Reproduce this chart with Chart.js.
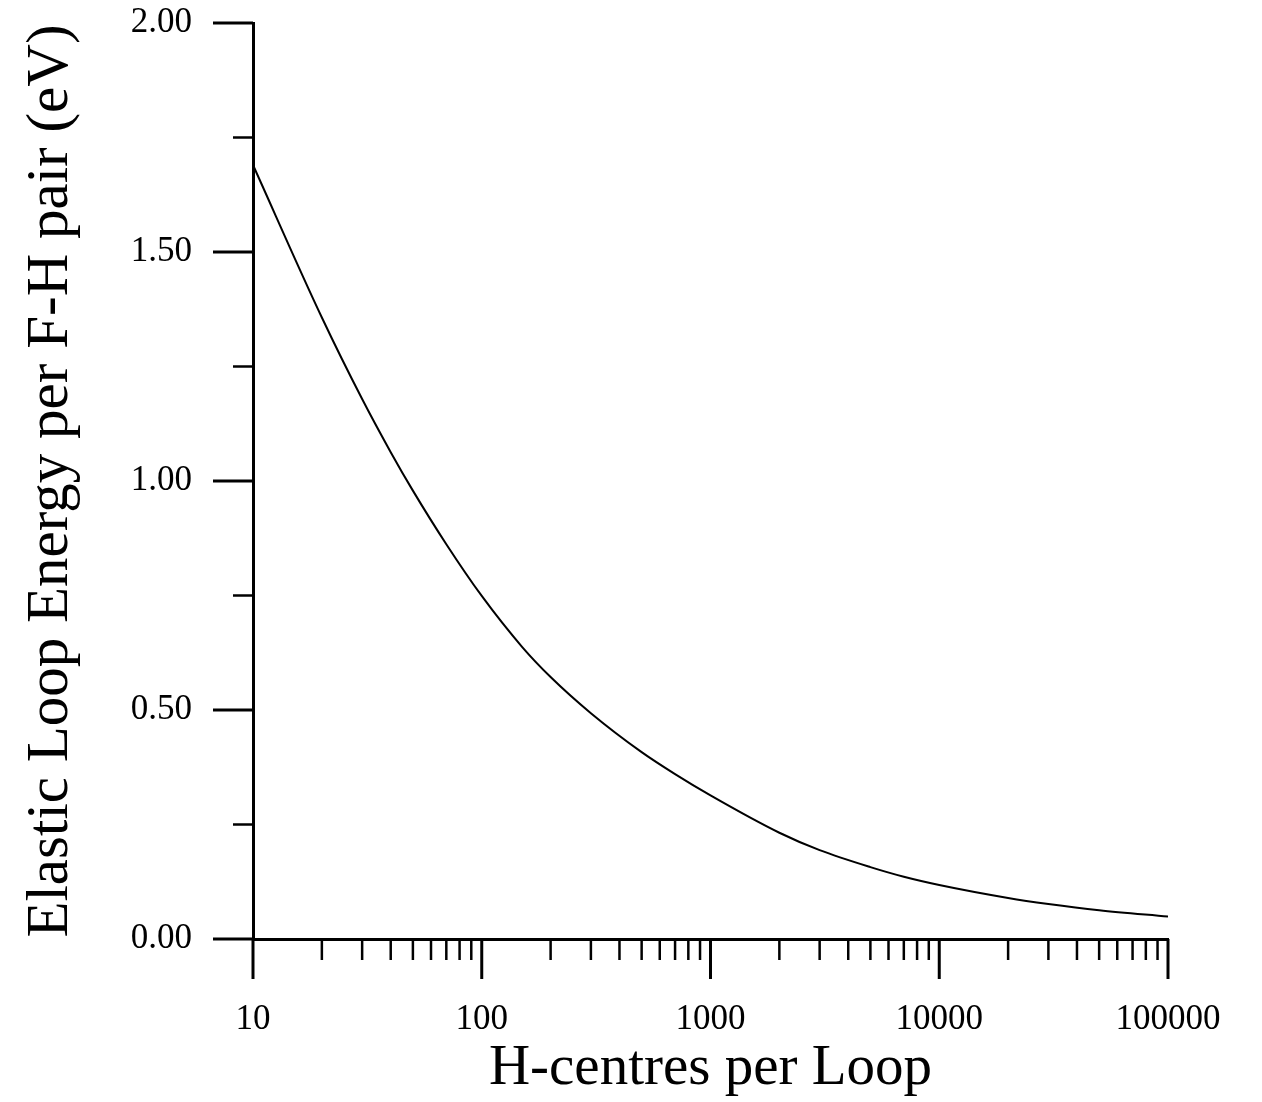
<!DOCTYPE html>
<html>
<head>
<meta charset="utf-8">
<script src="https://cdn.jsdelivr.net/npm/chart.js@4.4.1/dist/chart.umd.min.js"></script>
<style>
  html, body { margin: 0; padding: 0; background: #fff; }
  #wrap { width: 1262px; height: 1102px; position: relative; }
</style>
</head>
<body>
<div id="wrap"><canvas id="c" width="1262" height="1102"></canvas></div>
<script>
// ---- data ----
const hCentres = [10, 20, 30, 40, 50, 70, 100, 150, 200, 300, 500, 700, 1000, 2000, 3000, 5000, 7000, 10000, 20000, 30000, 50000, 100000];
const loopEnergy = [1.69, 1.357, 1.179, 1.063, 0.979, 0.862, 0.749, 0.638, 0.572, 0.493, 0.408, 0.360, 0.3135, 0.232, 0.194, 0.157, 0.136, 0.118, 0.0897, 0.0765, 0.0627, 0.0489];

const xMajorTicks = [10, 100, 1000, 10000, 100000];
const xTickLabels = ['10', '100', '1000', '10000', '100000'];
const xMinorTicks = [20, 30, 40, 50, 60, 70, 80, 90, 200, 300, 400, 500, 600, 700, 800, 900,
  2000, 3000, 4000, 5000, 6000, 7000, 8000, 9000, 20000, 30000, 40000, 50000, 60000, 70000, 80000, 90000];
const yMajorTicks = [0, 0.5, 1.0, 1.5, 2.0];
const yTickLabels = ['0.00', '0.50', '1.00', '1.50', '2.00'];
const yMinorTicks = [0.25, 0.75, 1.25, 1.75];

const xTitle = 'H-centres per Loop';
const yTitle = 'Elastic Loop Energy per F-H pair (eV)';

// ---- chart ----
const INK = '#000';
const SERIF = '"Liberation Serif", "Times New Roman", serif';

const tickMarks = {
  id: 'tickMarks',
  afterDraw(chart) {
    const {ctx, chartArea} = chart;
    const xs = chart.scales.x, ys = chart.scales.y;
    ctx.save();
    ctx.strokeStyle = INK;
    ctx.lineCap = 'butt';
    const hTick = (v, len) => {
      const px = xs.getPixelForValue(v);
      ctx.beginPath();
      ctx.moveTo(px, chartArea.bottom);
      ctx.lineTo(px, chartArea.bottom + len);
      ctx.stroke();
    };
    const vTick = (v, len) => {
      const py = ys.getPixelForValue(v);
      ctx.beginPath();
      ctx.moveTo(chartArea.left, py);
      ctx.lineTo(chartArea.left - len, py);
      ctx.stroke();
    };
    ctx.lineWidth = 2.5;
    xMinorTicks.forEach(v => hTick(v, 21));
    yMinorTicks.forEach(v => vTick(v, 20));
    ctx.lineWidth = 3;
    xMajorTicks.forEach(v => hTick(v, 40));
    yMajorTicks.forEach(v => vTick(v, 40));
    ctx.restore();
  }
};

new Chart(document.getElementById('c'), {
  type: 'line',
  data: {
    datasets: [{
      data: hCentres.map((x, i) => ({x: x, y: loopEnergy[i]})),
      borderColor: INK,
      borderWidth: 2,
      pointRadius: 0,
      cubicInterpolationMode: 'monotone',
      fill: false
    }]
  },
  options: {
    responsive: false,
    animation: false,
    devicePixelRatio: 1,
    layout: { padding: { top: 23, right: 94, left: 0, bottom: 0 } },
    plugins: { legend: { display: false }, tooltip: { enabled: false } },
    scales: {
      x: {
        type: 'logarithmic',
        min: 10,
        max: 100000,
        afterBuildTicks: s => { s.ticks = xMajorTicks.map(v => ({value: v})); },
        afterFit: s => { s.height = 163; },
        grid: { display: true, drawOnChartArea: false, drawTicks: true, tickLength: 60, tickColor: 'rgba(0,0,0,0)' },
        border: { display: true, color: INK, width: 3 },
        ticks: {
          autoSkip: false, maxRotation: 0, minRotation: 0,
          padding: 0,
          color: INK,
          font: { family: SERIF, size: 35 },
          callback: (v, i) => xTickLabels[i]
        },
        title: {
          display: true, text: xTitle, color: INK,
          font: { family: SERIF, size: 57, lineHeight: 1 },
          padding: { top: 0, bottom: 4 }
        }
      },
      y: {
        type: 'linear',
        min: 0,
        max: 2,
        afterBuildTicks: s => { s.ticks = yMajorTicks.map(v => ({value: v})); },
        afterFit: s => { s.width = 253; },
        grid: { display: true, drawOnChartArea: false, drawTicks: true, tickLength: 61, tickColor: 'rgba(0,0,0,0)' },
        border: { display: true, color: INK, width: 3 },
        ticks: {
          autoSkip: false,
          padding: 0,
          color: INK,
          font: { family: SERIF, size: 35 },
          callback: (v, i) => yTickLabels[i]
        },
        title: {
          display: true, text: yTitle, color: INK,
          font: { family: SERIF, size: 59, lineHeight: 1 },
          padding: { top: 22, bottom: 0 }
        }
      }
    }
  },
  plugins: [tickMarks]
});
</script>
</body>
</html>
